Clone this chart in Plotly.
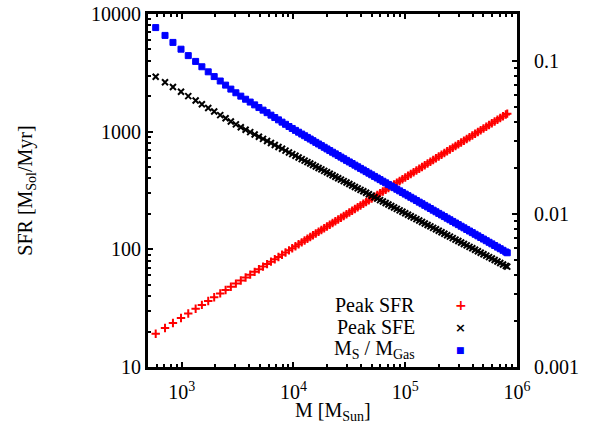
import plotly.graph_objects as go

# Mass values (M_Sun)
M = [586, 710, 836, 987, 1146, 1334, 1517, 1729, 1955, 2214, 2473, 2755, 3056, 3382, 3733,
     4104, 4499, 4911, 5347, 5810, 6296, 6810, 7348, 7907, 8494, 9124, 9754, 10425, 11120, 11860,
     12590, 13340, 14130, 14960, 15850, 16790, 17780, 18840, 19950, 21130, 22390, 23710, 25120,
     26610, 28180, 29850, 31620, 33500, 35480, 37580, 39810, 42170, 44670, 47320, 50120, 53090,
     56230, 59570, 63100, 66830, 70790, 74990, 79430, 84140, 89130, 94410,
     100000, 105900, 112200, 118900, 125900, 133400, 141300, 149600, 158500, 167900, 177800,
     188400, 199500, 211300, 223900, 237100, 251200, 266100, 281800, 298500, 316200, 335000,
     354800, 375800, 398100, 421700, 446700, 473200, 501200, 530900, 562300, 595700, 631000,
     668300, 707900, 749900, 794300, 818000]

# Peak SFR (M_Sol/Myr)
peak_sfr = [19.15, 21.45, 23.64, 26.10, 28.52, 31.23, 33.71, 36.41, 39.21, 42.20, 45.08, 48.08,
            51.14, 54.32, 57.62, 60.95, 64.38, 67.82, 71.33, 74.92, 78.62, 82.39, 86.19, 90.05,
            93.94, 98.03, 102.0, 106.1, 110.3, 114.6,
            118.7, 122.9, 127.2, 131.6, 136.2, 140.9, 145.9, 150.9, 156.2, 161.6,
            167.2, 173.1, 179.1, 185.4, 191.8, 198.5, 205.4, 212.5, 220.0, 227.7,
            235.6, 243.8, 252.2, 261.1, 270.2, 279.6, 289.4, 299.3, 309.9, 320.6,
            331.8, 343.4, 355.2, 367.7, 380.5, 393.8, 407.6, 421.6, 436.4, 451.6,
            467.3, 483.7, 500.4, 518.0, 535.9, 554.6, 574.0, 593.8, 614.7, 636.0,
            658.3, 681.2, 704.8, 729.6, 754.8, 781.2, 808.5, 836.5, 865.8, 895.7,
            927.2, 959.4, 992.7, 1028, 1063, 1100, 1139, 1178, 1220, 1262,
            1306, 1351, 1398, 1423]

# Peak SFE (plotted on left axis)
peak_sfe = [2925, 2626, 2394, 2181, 2004, 1840, 1711, 1591, 1483, 1383, 1299, 1222, 1153, 1091,
            1038, 990.6, 946.1, 906.0, 868.5, 833.3, 800.5, 770.2, 741.5, 714.8, 690.1, 665.8,
            644.3, 623.2, 603.6, 584.6,
            567.3, 551.4, 535.8, 520.8, 506.0, 491.8, 477.9, 464.4, 451.3, 438.6,
            426.2, 414.2, 402.5, 391.2, 380.1, 369.4, 359.0, 348.9, 339.0, 329.5,
            320.2, 311.2, 302.4, 293.9, 285.6, 277.5, 269.7, 262.1, 254.7, 247.5,
            240.5, 233.7, 227.1, 220.7, 214.5, 208.5, 202.6, 196.9, 191.3, 185.9,
            180.7, 175.6, 170.6, 165.8, 161.1, 156.6, 152.2, 147.9, 143.7, 139.6,
            135.7, 131.9, 128.2, 124.5, 121.0, 117.6, 114.3, 111.1, 108.0, 104.9,
            102.0, 99.07, 96.29, 93.56, 90.93, 88.35, 85.88, 83.44, 81.10, 78.80,
            76.59, 74.41, 72.33, 71.25]

# M_S / M_Gas (right axis)
ms_mgas = [0.1653, 0.1469, 0.1322, 0.1194, 0.1084, 0.09933, 0.09166, 0.08494, 0.07908, 0.07398,
           0.06953, 0.06549, 0.06197, 0.05890, 0.05624, 0.05389, 0.05166, 0.04961, 0.04771,
           0.04593, 0.04425, 0.04269, 0.04123, 0.03984, 0.03856, 0.03731, 0.03622, 0.03520,
           0.03424, 0.03330,
           0.03246, 0.03165, 0.03089, 0.03013, 0.02939, 0.02868, 0.02797, 0.02729, 0.02661, 0.02597,
           0.02533, 0.02472, 0.02411, 0.02353, 0.02297, 0.02241, 0.02188, 0.02136, 0.02085, 0.02035,
           0.01986, 0.01939, 0.01892, 0.01848, 0.01803, 0.01760, 0.01718, 0.01677, 0.01637, 0.01598,
           0.01560, 0.01523, 0.01486, 0.01451, 0.01416, 0.01382, 0.01349, 0.01317, 0.01286, 0.01255,
           0.01225, 0.01195, 0.01167, 0.01139, 0.01112, 0.01086, 0.01059, 0.01034, 0.01009, 0.009853,
           0.009619, 0.009387, 0.009165, 0.008943, 0.008732, 0.008523, 0.008319, 0.008121, 0.007925, 0.007738,
           0.007551, 0.007372, 0.007196, 0.007023, 0.006857, 0.006691, 0.006533, 0.006376, 0.006224, 0.006076,
           0.005929, 0.005789, 0.005649, 0.005579]

x_tickvals = [1e3, 1e4, 1e5, 1e6]
x_ticktext = ["10<sup>3</sup>", "10<sup>4</sup>", "10<sup>5</sup>", "10<sup>6</sup>"]
y_tickvals = [10, 100, 1000, 10000]
y_ticktext = ["10", "100", "1000", "10000"]
y2_tickvals = [0.001, 0.01, 0.1]
y2_ticktext = ["0.001", "0.01", "0.1"]

legend_labels = ["Peak SFR", "Peak SFE", "M<sub>S</sub> / M<sub>Gas</sub>"]

def minor_vals(lo_exp, hi_exp):
    out = []
    for e in range(lo_exp, hi_exp):
        for m in range(2, 10):
            out.append(m * 10.0 ** e)
    return out

FONT = "Liberation Serif"

fig = go.Figure()
fig.add_trace(go.Scatter(x=M, y=peak_sfr, mode="markers", name=legend_labels[0],
                         marker=dict(symbol="cross-thin", size=6, color="red",
                                     line=dict(color="red", width=2))))
fig.add_trace(go.Scatter(x=M, y=peak_sfe, mode="markers", name=legend_labels[1],
                         marker=dict(symbol="x-thin", size=6, color="black",
                                     line=dict(color="black", width=2))))
fig.add_trace(go.Scatter(x=M, y=ms_mgas, mode="markers", name=legend_labels[2], yaxis="y2",
                         marker=dict(symbol="square", size=6, color="blue",
                                     line=dict(color="blue", width=1))))

axis_common = dict(showline=True, linewidth=3, linecolor="black", showgrid=False,
                   zeroline=False, ticks="inside", ticklen=5, tickwidth=2, tickcolor="black",
                   automargin=False,
                   tickfont=dict(family=FONT, size=20, color="black"))

fig.update_layout(
    width=600, height=442,
    margin=dict(l=148, r=83, t=14, b=75),
    plot_bgcolor="white", paper_bgcolor="white",
    showlegend=False,
    font=dict(family=FONT, size=20, color="black"),
    xaxis=dict(type="log", range=[2.699, 6.0], mirror="ticks",
               tickmode="array", tickvals=x_tickvals, ticktext=x_ticktext,
               ticklabelstandoff=5,
               minor=dict(tickmode="array", tickvals=minor_vals(2, 6), ticks="inside",
                          ticklen=3, tickwidth=1.5, tickcolor="black", showgrid=False),
               **axis_common),
    yaxis=dict(type="log", range=[1, 4], mirror=True,
               tickmode="array", tickvals=y_tickvals, ticktext=y_ticktext,
               ticklabelstandoff=0,
               minor=dict(tickmode="array", tickvals=minor_vals(1, 4), ticks="inside",
                          ticklen=3, tickwidth=1.5, tickcolor="black", showgrid=False),
               title=dict(text="SFR [M<sub>Sol</sub>/Myr]", font=dict(family=FONT, size=20), standoff=54),
               **axis_common),
    yaxis2=dict(type="log", range=[-3, -0.693], overlaying="y", side="right",
                tickmode="array", tickvals=y2_tickvals, ticktext=y2_ticktext,
                ticklabelstandoff=10,
                minor=dict(tickmode="array", tickvals=minor_vals(-3, 0), ticks="inside",
                           ticklen=3, tickwidth=1.5, tickcolor="black", showgrid=False),
                **axis_common),
)

# x-axis title placed like gnuplot's
fig.add_annotation(xref="paper", yref="paper", x=0.5, y=-0.125, text="M [M<sub>Sun</sub>]",
                   showarrow=False, xanchor="center", yanchor="middle",
                   font=dict(family=FONT, size=20, color="black"))

# gnuplot-style key: text right-aligned, sample symbol to the right
key_y = [0.1756, 0.1133, 0.0482]
key_sym = ["+", "×", "■"]
key_col = ["red", "black", "blue"]
key_size = [14, 13, 9]
for lab, yy, sym, col, sz in zip(legend_labels, key_y, key_sym, key_col, key_size):
    fig.add_annotation(xref="paper", yref="paper", x=0.728, y=yy, text=lab, showarrow=False,
                       xanchor="right", yanchor="middle",
                       font=dict(family=FONT, size=20, color="black"))
    fig.add_annotation(xref="paper", yref="paper", x=0.847, y=yy, text="<b>%s</b>" % sym,
                       showarrow=False, xanchor="center", yanchor="middle",
                       font=dict(family="DejaVu Sans", size=sz, color=col))

fig.write_html("out.html")
